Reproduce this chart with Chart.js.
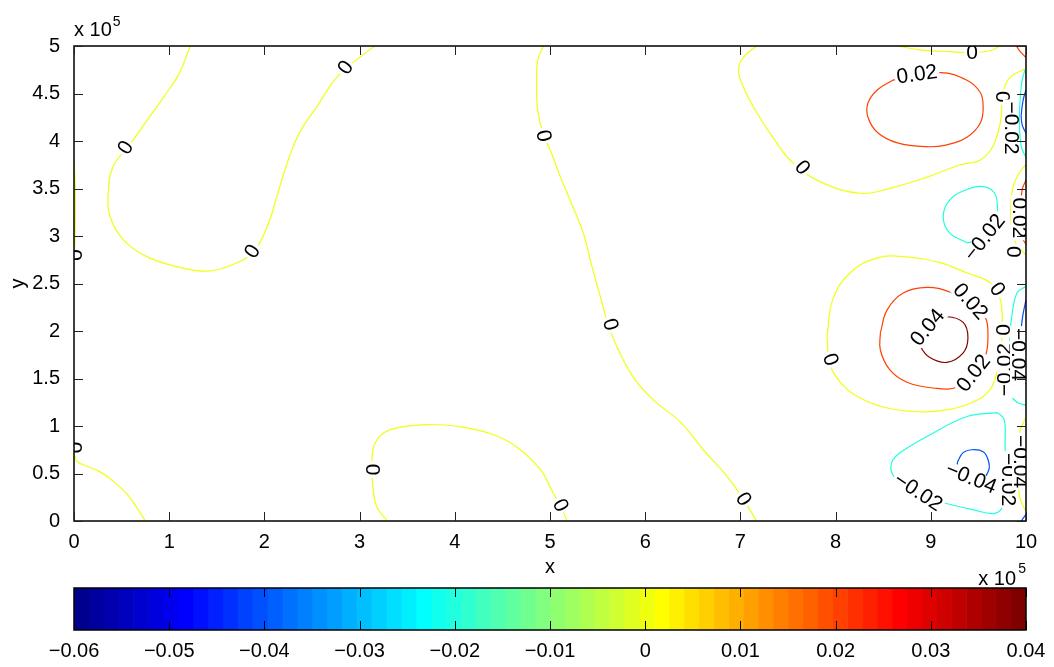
<!DOCTYPE html>
<html>
<head>
<meta charset="utf-8">
<script src="https://cdn.jsdelivr.net/npm/chart.js@4/dist/chart.umd.min.js"></script>
<style>
  html, body { margin: 0; padding: 0; background: #fff; }
  #wrap { position: relative; width: 1054px; height: 667px; }
  #plot { position: absolute; left: 0; top: 0; }
  #cbar { position: absolute; left: 0; top: 586px; }
</style>
</head>
<body>
<div id="wrap">
  <canvas id="plot" width="1054" height="586"></canvas>
  <canvas id="cbar" width="1054" height="81"></canvas>
</div>
<script>
// axis ticks (x and y in units of 1e5)
const xTicks = [0, 1, 2, 3, 4, 5, 6, 7, 8, 9, 10];
const yTicks = [0, 0.5, 1, 1.5, 2, 2.5, 3, 3.5, 4, 4.5, 5];
const cbarTicks = [-0.06, -0.05, -0.04, -0.03, -0.02, -0.01, 0, 0.01, 0.02, 0.03, 0.04];
const cbarRange = [-0.06, 0.04];
const cbarSteps = 64;

// contour paths, [x, y] pairs
const zeroA = [[1.22,5.0],[1.11,4.72],[0.94,4.46],[0.77,4.22],[0.57,3.94],[0.41,3.73],[0.36,3.45],[0.38,3.20],[0.52,2.96],[0.77,2.78],[1.11,2.67],[1.40,2.63],[1.67,2.70],[1.88,2.83],[2.03,3.10],[2.13,3.41],[2.24,3.77],[2.37,4.09],[2.55,4.36],[2.76,4.67],[3.00,4.88],[3.16,5.0]];
const zeroEdge = [[0,3.80],[0.012,3.55],[0.015,3.25],[0.01,2.95],[0,2.70]];
const zeroB = [[0,0.80],[0.01,0.70],[0.03,0.63],[0.10,0.59],[0.27,0.52],[0.41,0.42],[0.56,0.28],[0.66,0.14],[0.75,0]];
const zeroC = [[3.29,0],[3.18,0.15],[3.14,0.36],[3.13,0.54],[3.14,0.75],[3.21,0.89],[3.35,0.97],[3.71,1.015],[4.06,0.99],[4.40,0.91],[4.65,0.78],[4.90,0.54],[5.03,0.30],[5.11,0.16],[5.18,0]];
const zeroD = [[4.93,5.0],[4.87,4.85],[4.86,4.61],[4.87,4.33],[4.93,4.06],[5.0,3.91],[5.11,3.62],[5.21,3.38],[5.35,3.03],[5.44,2.68],[5.53,2.36],[5.61,2.07],[5.70,1.84],[5.87,1.52],[6.08,1.28],[6.37,1.04],[6.61,0.75],[6.86,0.47],[7.03,0.23],[7.17,0]];
const zeroE = [[7.17,5.0],[7.03,4.88],[6.98,4.75],[7.03,4.57],[7.17,4.30],[7.34,4.04],[7.55,3.77],[7.84,3.57],[8.26,3.45],[8.60,3.51],[8.96,3.62],[9.31,3.75],[9.52,3.80],[9.65,3.94],[9.73,4.19],[9.76,4.51],[9.83,4.67],[9.97,4.75],[10,4.76]];
const zeroF = [[8.65,5.0],[8.89,4.96],[9.20,4.94],[9.43,4.93],[9.62,4.95],[9.73,5.0]];
const zeroG = [[7.91,1.94],[7.97,2.33],[8.15,2.61],[8.44,2.77],[8.75,2.78],[9.10,2.72],[9.38,2.61],[9.62,2.51],[9.73,2.33],[9.75,2.15],[9.75,1.96],[9.73,1.80],[9.70,1.59],[9.62,1.38],[9.44,1.25],[9.17,1.17],[8.86,1.15],[8.50,1.20],[8.23,1.31],[8.05,1.46],[7.94,1.65],[7.91,1.94]];
const zeroH = [[10,3.75],[9.94,3.68],[9.87,3.54],[9.84,3.33],[9.85,3.07],[9.90,2.91],[10,2.80]];
const zeroI = [[10,1.09],[9.94,0.96],[9.905,0.75],[9.905,0.49],[9.94,0.23],[10,0.10]];
const pos02A = [[8.60,4.64],[9.10,4.72],[9.38,4.64],[9.52,4.51],[9.55,4.36],[9.52,4.19],[9.38,4.04],[9.17,3.96],[8.96,3.94],[8.65,3.98],[8.44,4.09],[8.34,4.25],[8.34,4.40],[8.44,4.54],[8.60,4.64]];
const pos02B = [[8.47,1.98],[8.54,2.22],[8.71,2.40],[8.96,2.46],[9.20,2.41],[9.41,2.30],[9.57,2.15],[9.60,1.94],[9.57,1.73],[9.44,1.56],[9.28,1.41],[9.02,1.40],[8.75,1.46],[8.57,1.59],[8.47,1.80],[8.47,1.98]];
const pos02C = [[9.90,5.0],[9.94,4.94],[10,4.88]];
const pos02D = [[10,3.59],[9.96,3.49],[9.94,3.28],[9.95,3.01],[10,2.91]];
const pos04A = [[8.89,1.91],[8.99,2.10],[9.17,2.15],[9.34,2.09],[9.39,1.93],[9.34,1.77],[9.17,1.67],[8.99,1.72],[8.89,1.84],[8.89,1.91]];
const neg02A = [[9.99,4.75],[9.96,4.64],[9.94,4.46],[9.93,4.22],[9.94,4.01],[9.96,3.91],[10,3.83]];
const neg02B = [[9.38,2.93],[9.20,3.03],[9.13,3.20],[9.20,3.38],[9.38,3.49],[9.55,3.52],[9.67,3.45],[9.70,3.28],[9.67,3.09],[9.55,2.96],[9.38,2.93]];
const neg02C = [[10,2.47],[9.905,2.40],[9.85,2.15],[9.83,1.91],[9.83,1.59],[9.83,1.35],[9.905,1.25],[10,1.22]];
const neg02D = [[9.70,1.14],[9.38,1.10],[8.96,0.89],[8.68,0.72],[8.59,0.62],[8.60,0.49],[8.73,0.36],[8.89,0.26],[9.10,0.20],[9.44,0.12],[9.67,0.08],[9.76,0.17],[9.78,0.44],[9.78,0.80],[9.77,1.07],[9.70,1.14]];
const neg04A = [[10,4.54],[9.97,4.43],[9.95,4.27],[9.96,4.17],[10,4.08]];
const neg04B = [[10,2.33],[9.96,2.12],[9.94,1.86],[9.94,1.63],[10,1.44]];
const neg04C = [[9.28,0.62],[9.34,0.72],[9.44,0.75],[9.55,0.73],[9.60,0.65],[9.61,0.54],[9.52,0.42],[9.36,0.42],[9.28,0.52],[9.28,0.62]];
const neg04D = [[9.95,0],[10,0.07]];

const contours = [
  [0, zeroA], [0, zeroEdge], [0, zeroB], [0, zeroC], [0, zeroD], [0, zeroE], [0, zeroF], [0, zeroG], [0, zeroH], [0, zeroI],
  [0.02, pos02A], [0.02, pos02B], [0.02, pos02C], [0.02, pos02D],
  [0.04, pos04A],
  [-0.02, neg02A], [-0.02, neg02B], [-0.02, neg02C], [-0.02, neg02D],
  [-0.04, neg04A], [-0.04, neg04B], [-0.04, neg04C], [-0.04, neg04D]
];

// inline labels: level, x, y, rotation (deg)
const contourLabels = [
  [0, 0.546, 3.927, -57], [0, 1.88, 2.834, -58], [0, 2.857, 4.769, -55],
  [0, 0.0, 2.80, 90], [0, 0.0, 0.773, 90],
  [0, 3.13, 0.542, 90], [0, 5.105, 0.163, 65], [0, 4.926, 4.053, 80],
  [0, 5.63, 2.066, 75], [0, 7.027, 0.226, 57], [0, 7.647, 3.717, 50],
  [0, 9.433, 4.926, 0], [0.02, 8.855, 4.695, -8],
  [0, 9.748, 4.464, 90], [-0.02, 9.842, 4.137, 90],
  [0.02, 9.926, 3.191, 90], [0, 9.863, 2.834, 90],
  [-0.02, 9.569, 2.981, -52], [0, 9.695, 2.434, 55], [0.02, 9.412, 2.308, 48],
  [0.04, 8.971, 2.034, -50], [0.02, 9.454, 1.551, -52], [0, 9.748, 2.013, 90],
  [0, 7.941, 1.698, 70], [-0.02, 9.779, 1.593, -90], [-0.04, 9.916, 1.751, 90],
  [-0.02, 8.866, 0.30, 33], [-0.04, 9.422, 0.447, 22],
  [-0.02, 9.811, 0.436, 90], [-0.04, 9.937, 0.626, 90]
];

const FONT = "'Liberation Sans', Arial, Helvetica, sans-serif";
Chart.defaults.font.family = FONT;
Chart.defaults.color = '#000';

// MATLAB style jet colormap, index 1..n
function jet(i) {
  const clip = v => Math.max(0, Math.min(1, v));
  const r = i <= 24 ? 0 : i <= 40 ? (i - 24) / 16 : i <= 55 ? 1 : (72 - i) / 16;
  const g = i <= 8 ? 0 : i <= 24 ? (i - 8) / 16 : i <= 39 ? 1 : i <= 55 ? (56 - i) / 16 : 0;
  const b = i <= 8 ? (i + 8) / 16 : i <= 23 ? 1 : i <= 39 ? (40 - i) / 16 : 0;
  return `rgb(${Math.round(clip(r) * 255)},${Math.round(clip(g) * 255)},${Math.round(clip(b) * 255)})`;
}
function levelColor(v) {
  const idx = Math.floor((v - cbarRange[0]) / (cbarRange[1] - cbarRange[0]) * cbarSteps + 1e-9) + 1;
  return jet(Math.min(cbarSteps, Math.max(1, idx)));
}
function fmt(v) {
  const n = parseFloat(v.toFixed(3));
  if (n === 0) return '0';
  return (n < 0 ? '\u2212' : '') + Math.abs(n);
}

const labelPlugin = {
  id: 'contourLabels',
  afterDatasetsDraw(chart) {
    const { ctx, chartArea: a, scales: { x, y } } = chart;
    ctx.save();
    ctx.beginPath();
    ctx.rect(a.left, a.top, a.right - a.left, a.bottom - a.top);
    ctx.clip();
    ctx.font = '21px ' + FONT;
    ctx.textAlign = 'center';
    ctx.textBaseline = 'middle';
    contourLabels.forEach(([lv, lx, ly, ang]) => {
      const txt = fmt(lv);
      const w = ctx.measureText(txt).width;
      ctx.save();
      ctx.translate(x.getPixelForValue(lx), y.getPixelForValue(ly));
      ctx.rotate(ang * Math.PI / 180);
      ctx.fillStyle = '#fff';
      ctx.fillRect(-w / 2 - 2, -8, w + 4, 16);
      ctx.fillStyle = '#000';
      ctx.fillText(txt, 0, 0);
      ctx.restore();
    });
    ctx.restore();
  }
};

const plotBox = {
  id: 'plotBox',
  afterDraw(chart) {
    const { ctx, chartArea: a, scales: { x, y } } = chart;
    ctx.save();
    ctx.strokeStyle = '#000';
    ctx.lineWidth = 1.5;
    ctx.strokeRect(a.left, a.top, a.right - a.left, a.bottom - a.top);
    ctx.lineWidth = 1;
    ctx.strokeStyle = '#222';
    ctx.beginPath();
    xTicks.forEach(v => {
      const px = Math.round(x.getPixelForValue(v)) + 0.5;
      ctx.moveTo(px, a.bottom); ctx.lineTo(px, a.bottom - 9);
      ctx.moveTo(px, a.top); ctx.lineTo(px, a.top + 9);
    });
    yTicks.forEach(v => {
      const py = Math.round(y.getPixelForValue(v)) + 0.5;
      ctx.moveTo(a.left, py); ctx.lineTo(a.left + 9, py);
      ctx.moveTo(a.right, py); ctx.lineTo(a.right - 9, py);
    });
    ctx.stroke();
    // axis multipliers
    ctx.fillStyle = '#000';
    ctx.textBaseline = 'alphabetic';
    ctx.textAlign = 'left';
    ctx.font = '20px ' + FONT;
    ctx.fillText('x 10', a.left, a.top - 10);
    const w = ctx.measureText('x 10').width;
    ctx.font = '14px ' + FONT;
    ctx.fillText('5', a.left + w + 1, a.top - 20);
    ctx.textAlign = 'right';
    ctx.fillText('5', a.right, 573);
    ctx.font = '20px ' + FONT;
    ctx.fillText('x 10', a.right - 10, 585);
    ctx.restore();
  }
};

new Chart(document.getElementById('plot'), {
  type: 'scatter',
  data: {
    datasets: contours.map(([lv, pts]) => ({
      data: pts.map(([px, py]) => ({ x: px, y: py })),
      showLine: true,
      borderColor: levelColor(lv),
      borderWidth: 1.2,
      pointRadius: 0,
      tension: 0.4,
      fill: false
    }))
  },
  options: {
    responsive: false,
    animation: false,
    events: [],
    layout: { padding: { top: 46, right: 28, left: 0, bottom: 0 } },
    scales: {
      x: {
        type: 'linear', min: 0, max: 10,
        afterBuildTicks: s => { s.ticks = xTicks.map(v => ({ value: v })); },
        afterFit: s => { s.height = 65; },
        grid: { display: false }, border: { display: false },
        ticks: { padding: 1, font: { size: 20 }, color: '#000', maxRotation: 0, callback: v => fmt(v) },
        title: { display: true, text: 'x', font: { size: 20 }, color: '#000', padding: { top: 0, bottom: 7 } }
      },
      y: {
        type: 'linear', min: 0, max: 5,
        afterBuildTicks: s => { s.ticks = yTicks.map(v => ({ value: v })); },
        afterFit: s => { s.width = 74; },
        grid: { display: false }, border: { display: false },
        ticks: { padding: 6, font: { size: 20 }, color: '#000', callback: v => fmt(v) },
        title: { display: true, text: 'y', font: { size: 20 }, color: '#000', padding: { top: 6, bottom: 0 } }
      }
    },
    plugins: { legend: { display: false }, tooltip: { enabled: false } }
  },
  plugins: [labelPlugin, plotBox]
});

// colour bar cells
const cellWidth = (cbarRange[1] - cbarRange[0]) / cbarSteps;
const cbarCells = [];
for (let i = 0; i < cbarSteps; i++) {
  cbarCells.push({ lo: cbarRange[0] + i * cellWidth, hi: cbarRange[0] + (i + 1) * cellWidth, color: jet(i + 1) });
}

const cbarBox = {
  id: 'cbarBox',
  afterDraw(chart) {
    const { ctx, chartArea: a, scales: { x } } = chart;
    ctx.save();
    ctx.strokeStyle = '#000';
    ctx.lineWidth = 1.5;
    ctx.strokeRect(a.left, a.top, a.right - a.left, a.bottom - a.top);
    ctx.lineWidth = 1;
    ctx.beginPath();
    cbarTicks.forEach(v => {
      const px = Math.round(x.getPixelForValue(v)) + 0.5;
      ctx.moveTo(px, a.top); ctx.lineTo(px, a.top + 9);
      ctx.moveTo(px, a.bottom); ctx.lineTo(px, a.bottom - 9);
    });
    ctx.stroke();
    ctx.restore();
  }
};

new Chart(document.getElementById('cbar'), {
  type: 'bar',
  data: {
    labels: [''],
    datasets: cbarCells.map(c => ({
      data: [[c.lo, c.hi]],
      backgroundColor: c.color,
      borderWidth: 0,
      grouped: false,
      barPercentage: 1,
      categoryPercentage: 1
    }))
  },
  options: {
    indexAxis: 'y',
    responsive: false,
    animation: false,
    events: [],
    layout: { padding: { top: 2, right: 28, left: 74, bottom: 0 } },
    scales: {
      x: {
        type: 'linear', min: cbarRange[0], max: cbarRange[1],
        afterBuildTicks: s => { s.ticks = cbarTicks.map(v => ({ value: v })); },
        afterFit: s => { s.height = 37; },
        grid: { display: false }, border: { display: false },
        ticks: { padding: 1, font: { size: 20 }, color: '#000', maxRotation: 0, callback: v => fmt(v) }
      },
      y: { display: false }
    },
    plugins: { legend: { display: false }, tooltip: { enabled: false } }
  },
  plugins: [cbarBox]
});
</script>
</body>
</html>
